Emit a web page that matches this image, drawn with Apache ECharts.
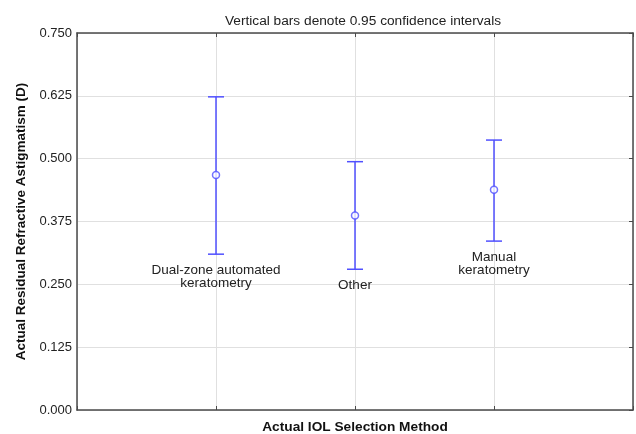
<!DOCTYPE html>
<html>
<head>
<meta charset="utf-8">
<script src="https://cdn.jsdelivr.net/npm/echarts@6/dist/echarts.min.js"></script>
<style>html,body{margin:0;padding:0;background:#fff}#c{width:636px;height:434px}</style>
</head>
<body>
<div id="c"></div>
<script>
var categories = ['Dual-zone automated\nkeratometry', 'Other', 'Manual\nkeratometry'];
var categoryPos = [1, 2, 3];
var means = [0.4675, 0.387, 0.438];
var upper = [0.623, 0.494, 0.537];
var lower = [0.310, 0.280, 0.336];
var yTicks = [0, 0.125, 0.25, 0.375, 0.5, 0.625, 0.75];

var FONT = '"Liberation Sans", Arial, Helvetica, sans-serif';
var BLUE = '#5050ff';
var AXIS = '#4a4a4a';

var chart = echarts.init(document.getElementById('c'), null, {renderer: 'canvas'});

var errData = categoryPos.map(function (x, i) { return [x, lower[i], upper[i]]; });
var meanData = categoryPos.map(function (x, i) { return [x, means[i]]; });
var labelData = categoryPos.map(function (x, i) { return [x, lower[i]]; });

chart.setOption({
  animation: false,
  title: {
    text: 'Vertical bars denote 0.95 confidence intervals',
    left: 358, top: 9, textAlign: 'center',
    textStyle: {fontFamily: FONT, fontSize: 13.7, fontWeight: 'normal', color: '#222'}
  },
  grid: {left: 77, right: 3, top: 33, bottom: 24, containLabel: false, outerBoundsMode: 'none'},
  xAxis: [{
    type: 'value', min: 0, max: 4, interval: 1, position: 'bottom',
    name: 'Actual IOL Selection Method', nameLocation: 'middle', nameGap: 10,
    nameTextStyle: {fontFamily: FONT, fontSize: 13.7, fontWeight: 'bold', color: '#111'},
    axisLine: {show: true, onZero: false, lineStyle: {color: AXIS, width: 1.5}},
    axisTick: {show: true, inside: true, length: 4, lineStyle: {color: AXIS}},
    axisLabel: {show: false},
    splitLine: {show: true, lineStyle: {color: '#e0e0e0', width: 1}}
  }, {
    type: 'value', min: 0, max: 4, interval: 1, position: 'top',
    axisLine: {show: true, onZero: false, lineStyle: {color: AXIS, width: 1.5}},
    axisTick: {show: true, inside: true, length: 4, lineStyle: {color: AXIS}},
    axisLabel: {show: false},
    splitLine: {show: false}
  }],
  yAxis: [{
    type: 'value', min: 0, max: 0.75, interval: 0.125, position: 'left',
    name: 'Actual Residual Refractive Astigmatism (D)', nameLocation: 'middle', nameGap: 46,
    nameTextStyle: {fontFamily: FONT, fontSize: 13.5, fontWeight: 'bold', color: '#111'},
    axisLine: {show: true, onZero: false, lineStyle: {color: AXIS, width: 1.5}},
    axisTick: {show: false},
    axisLabel: {fontFamily: FONT, fontSize: 13, color: '#222', margin: 5,
      formatter: function (v) { return v.toFixed(3); }},
    splitLine: {show: true, lineStyle: {color: '#e0e0e0', width: 1}}
  }, {
    type: 'value', min: 0, max: 0.75, interval: 0.125, position: 'right',
    axisLine: {show: true, onZero: false, lineStyle: {color: AXIS, width: 1.5}},
    axisTick: {show: true, inside: true, length: 4, lineStyle: {color: AXIS}},
    axisLabel: {show: false},
    splitLine: {show: false}
  }],
  series: [{
    type: 'custom',
    xAxisIndex: 0, yAxisIndex: 0,
    data: errData,
    renderItem: function (params, api) {
      var x = api.value(0);
      var lo = api.coord([x, api.value(1)]);
      var hi = api.coord([x, api.value(2)]);
      var hw = 8;
      var st = {stroke: BLUE, lineWidth: 1.5, fill: null};
      return {
        type: 'group',
        children: [
          {type: 'line', shape: {x1: lo[0], y1: lo[1], x2: hi[0], y2: hi[1]}, style: st},
          {type: 'line', shape: {x1: lo[0] - hw, y1: lo[1], x2: lo[0] + hw, y2: lo[1]}, style: st},
          {type: 'line', shape: {x1: hi[0] - hw, y1: hi[1], x2: hi[0] + hw, y2: hi[1]}, style: st}
        ]
      };
    },
    z: 3
  }, {
    type: 'scatter',
    xAxisIndex: 0, yAxisIndex: 0,
    data: meanData,
    symbol: 'circle', symbolSize: 7,
    itemStyle: {color: '#fff', borderColor: BLUE, borderWidth: 1.5},
    z: 4
  }, {
    type: 'custom',
    xAxisIndex: 0, yAxisIndex: 0,
    data: labelData,
    renderItem: function (params, api) {
      var p = api.coord([api.value(0), api.value(1)]);
      return {
        type: 'text',
        style: {
          x: p[0], y: p[1] + 9,
          text: categories[params.dataIndex],
          fontFamily: FONT, fontSize: 13.5, fill: '#222',
          align: 'center', verticalAlign: 'top', lineHeight: 13.5
        }
      };
    },
    z: 5
  }]
});
</script>
</body>
</html>
